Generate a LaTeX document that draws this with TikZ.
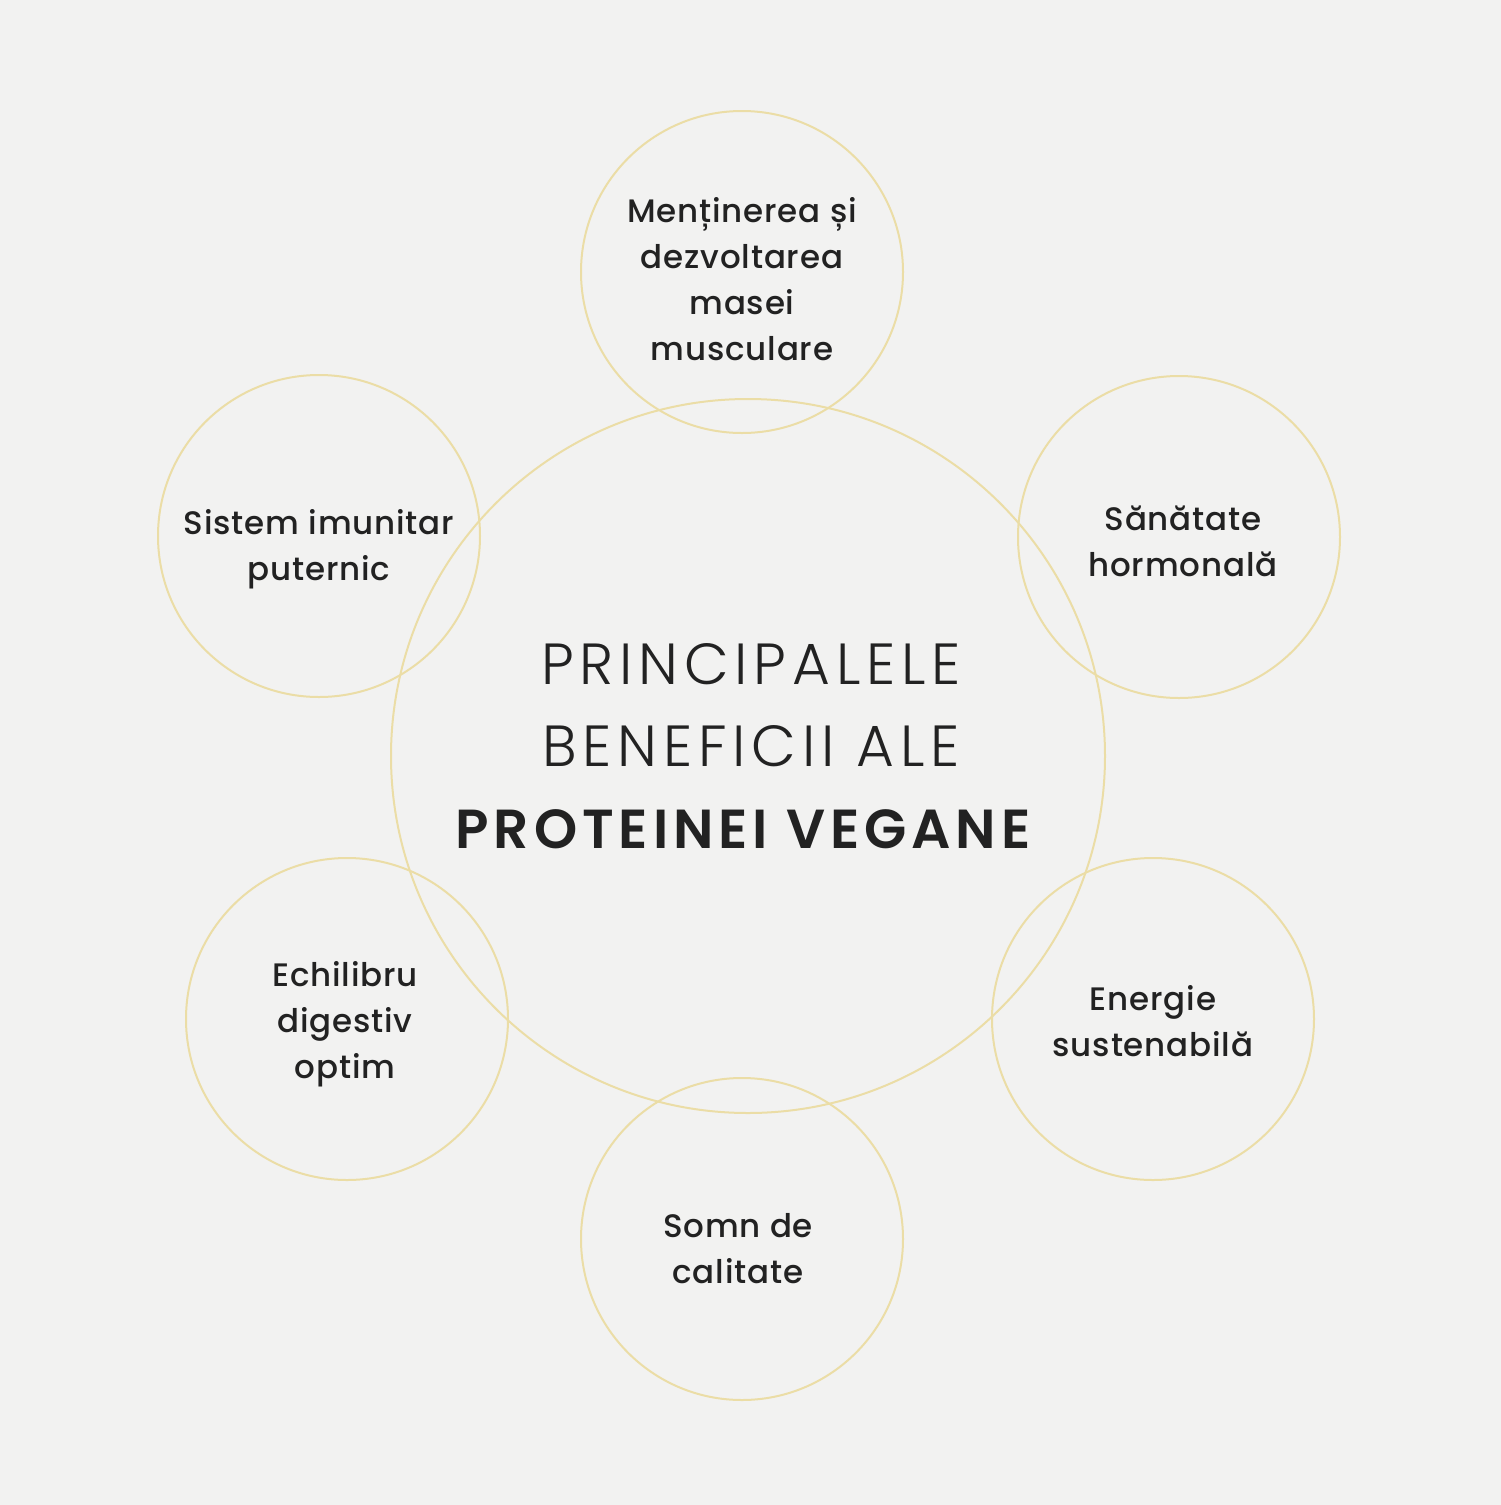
\documentclass[tikz,border=0pt]{standalone}
\usepackage{fontspec}
\setmainfont{Poppins}
\newfontfamily\poplight[LetterSpace=10]{Poppins Light}
\newfontfamily\popsemi[LetterSpace=9]{Poppins SemiBold}
\newfontfamily\popmed[LetterSpace=2.5]{Poppins Medium}
\definecolor{bg}{HTML}{F2F2F1}
\definecolor{ring}{HTML}{EBDDA6}
\definecolor{ink}{HTML}{222222}
\begin{document}
\begin{tikzpicture}[x=1pt,y=-1pt,
  ringc/.style={circle,draw=ring,line width=2pt,minimum size=#1,inner sep=0pt},
  lbl/.style={align=center,text=ink,font=\popmed\fontsize{32.5}{46}\selectfont,inner sep=0pt},
  ttl/.style={align=center,text=ink,inner sep=0pt}]
\fill[bg] (0,0) rectangle (1501,1505);
\useasboundingbox (0,0) rectangle (1501,1505);
\node[ringc=714pt] (c) at (748,756) {};
\node[ringc=322pt] (t) at (742,272) {};
\node[ringc=322pt] (ul) at (319,536) {};
\node[ringc=322pt] (ur) at (1179,537) {};
\node[ringc=322pt] (ll) at (347,1019) {};
\node[ringc=322pt] (lr) at (1153,1019) {};
\node[ringc=322pt] (b) at (742,1239) {};
\node[lbl] (tl) at (742,279) {Menținerea și\\dezvoltarea\\masei\\musculare};
\node[lbl] (ull) at (319,549) {Sistem imunitar\\puternic};
\node[lbl] (url) at (1183,541) {Sănătate\\hormonală};
\node[lbl] (lll) at (345,1024) {Echilibru\\digestiv\\optim};
\node[lbl] (lrl) at (1153,1021) {Energie\\sustenabilă};
\node[lbl] (bl) at (738,1249) {Somn de\\calitate};
\node[ttl,font=\poplight\fontsize{58}{82}\selectfont] (t1) at (751,664) {PRINCIPALELE};
\node[ttl,font=\poplight\fontsize{58}{82}\selectfont] (t2) at (751,746) {BENEFICII ALE};
\node[ttl,font=\popsemi\fontsize{55}{82}\selectfont] (t3) at (743,829) {PROTEINEI VEGANE};
\end{tikzpicture}
\end{document}
